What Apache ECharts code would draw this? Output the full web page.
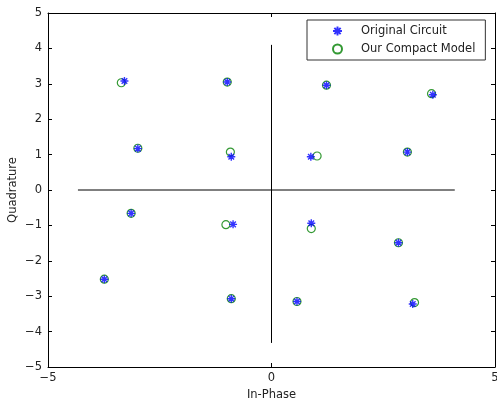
<!DOCTYPE html>
<html>
<head>
<meta charset="utf-8">
<script src="https://cdn.jsdelivr.net/npm/echarts@6/dist/echarts.min.js"></script>
<style>
  html, body { margin: 0; padding: 0; background: #fff; }
  #chart { width: 497px; height: 405px; }
</style>
</head>
<body>
<div id="chart"></div>
<script>
// constellation points, [in-phase, quadrature]
const originalCircuit = [
  [-3.29, 3.08], [-0.99, 3.05], [1.23, 2.96], [3.61, 2.69],
  [-2.99, 1.17], [-0.90, 0.94], [0.88, 0.94], [3.04, 1.07],
  [-3.14, -0.66], [-0.86, -0.97], [0.89, -0.94], [2.84, -1.49],
  [-3.74, -2.52], [-0.90, -3.07], [0.57, -3.15], [3.16, -3.22]
];
const compactModel = [
  [-3.36, 3.03], [-0.99, 3.05], [1.23, 2.96], [3.58, 2.72],
  [-2.99, 1.18], [-0.92, 1.07], [1.02, 0.96], [3.04, 1.07],
  [-3.14, -0.66], [-1.02, -0.98], [0.89, -1.09], [2.84, -1.49],
  [-3.74, -2.52], [-0.90, -3.07], [0.57, -3.15], [3.20, -3.18]
];
// the cross through the origin
const hLine = [[-4.33, 0], [4.1, 0]];
const vLine = [[0, -4.32], [0, 4.1]];

const font = 'DejaVu Sans';
const txt = '#222';
const star = 'path://M0,-10L0,10M-10,0L10,0M-7,-7L7,7M-7,7L7,-7';

// matlab prints a real minus sign
function minus(v) {
  return String(v).replace('-', '\u2212');
}

const chart = echarts.init(document.getElementById('chart'));

const axisCommon = {
  type: 'value',
  min: -5,
  max: 5,
  axisLine: { show: true, onZero: false, lineStyle: { color: '#000', width: 1 } },
  axisTick: { show: true, inside: true, length: 4, lineStyle: { color: '#000' } },
  splitLine: { show: false }
};

chart.setOption({
  animation: false,
  grid: { left: 48, right: 2, top: 13, bottom: 38, outerBoundsMode: 'none', containLabel: false },
  legend: {
    left: 307,
    top: 20,
    orient: 'vertical',
    padding: [5, 10, 5, 25],
    itemWidth: 9,
    itemHeight: 9,
    itemGap: 6,
    borderColor: '#333',
    borderWidth: 1,
    backgroundColor: '#fff',
    textStyle: { fontFamily: font, fontSize: 11.5, color: txt, padding: [0, 0, 0, 14] },
    data: ['Original Circuit', 'Our Compact Model']
  },
  xAxis: [
    Object.assign({}, axisCommon, {
      position: 'bottom',
      interval: 5,
      name: 'In-Phase',
      nameLocation: 'middle',
      nameGap: 22,
      nameMoveOverlap: false,
      nameTextStyle: { fontFamily: font, fontSize: 11.5, color: txt },
      axisLabel: { fontFamily: font, fontSize: 11.5, color: txt, margin: 5, formatter: minus }
    }),
    Object.assign({}, axisCommon, {
      position: 'top',
      interval: 5,
      axisLabel: { show: false }
    })
  ],
  yAxis: [
    Object.assign({}, axisCommon, {
      position: 'left',
      interval: 1,
      name: 'Quadrature',
      nameLocation: 'middle',
      nameGap: 29,
      nameMoveOverlap: false,
      nameTextStyle: { fontFamily: font, fontSize: 11.5, color: txt },
      axisLabel: { fontFamily: font, fontSize: 11.5, color: txt, margin: 6, formatter: minus }
    }),
    Object.assign({}, axisCommon, {
      position: 'right',
      interval: 1,
      axisLabel: { show: false }
    })
  ],
  series: [
    {
      type: 'line',
      data: hLine,
      symbol: 'none',
      silent: true,
      lineStyle: { color: '#000', width: 1 },
      z: 1
    },
    {
      type: 'line',
      data: vLine,
      symbol: 'none',
      silent: true,
      lineStyle: { color: '#000', width: 1 },
      z: 1
    },
    {
      name: 'Our Compact Model',
      type: 'scatter',
      data: compactModel,
      symbol: 'circle',
      symbolSize: 8,
      itemStyle: { color: 'rgba(0,0,0,0)', borderColor: '#008000', borderWidth: 1.2 },
      z: 2
    },
    {
      name: 'Original Circuit',
      type: 'scatter',
      data: originalCircuit,
      symbol: star,
      symbolSize: 8,
      itemStyle: { color: '#0000ff', borderColor: '#0000ff', borderWidth: 1.4 },
      z: 3
    }
  ]
});
</script>
</body>
</html>
